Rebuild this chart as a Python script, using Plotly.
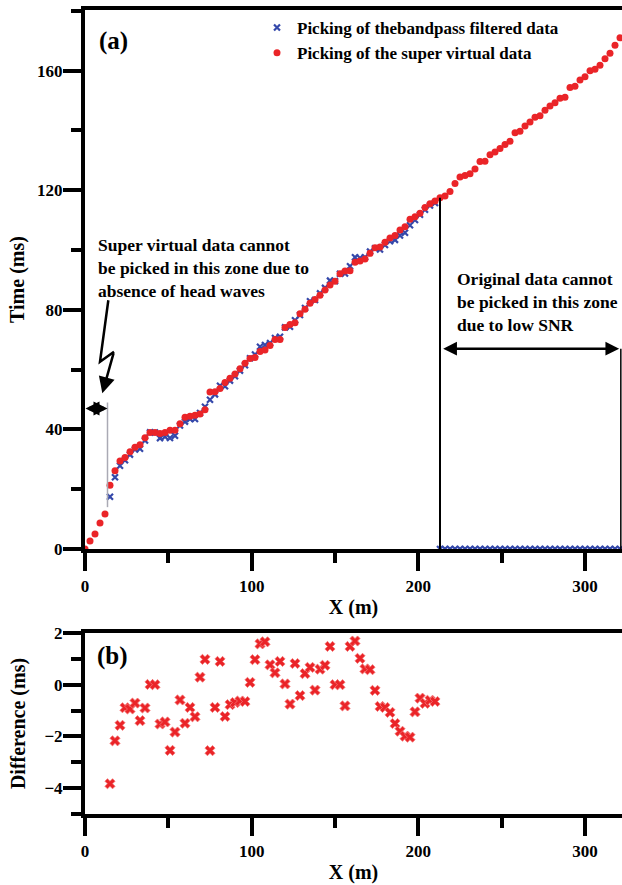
import plotly.graph_objects as go

# ---- data ----
x_super = list(range(0, 322, 3))
t_super = [0, 2.7, 5.0, 8.7, 11.7, 21.3, 26.2, 29.4, 30.6, 32.5,
           34.0, 34.9, 37.2, 39.0, 39.0, 38.6, 39.0, 39.7, 39.7, 41.9,
           44.1, 44.4, 44.7, 45.2, 46.6, 52.5, 52.6, 53.7, 55.7, 57.1,
           58.5, 60.3, 62.1, 63.7, 64.1, 66.1, 66.6, 68.1, 70.1, 70.1,
           74.1, 75.1, 75.7, 78.7, 80.2, 82.2, 83.5, 84.9, 86.6, 88.3,
           89.6, 92.1, 93.0, 93.1, 95.9, 96.3, 97.0, 98.9, 100.8, 101.0,
           102.6, 104.0, 104.9, 106.7, 107.8, 110.3, 111.1, 112.3, 114.2, 115.5,
           116.4, 117.5, 118.1, 119.6, 122.3, 124.4, 124.9, 125.5, 127.1, 129.6,
           129.7, 131.9, 132.8, 134.0, 135.3, 136.4, 139.2, 139.7, 141.5, 142.8,
           144.4, 144.9, 146.8, 148.2, 149.3, 150.8, 151.1, 154.4, 154.8, 156.9,
           158.0, 160.0, 160.5, 161.8, 164.0, 165.8, 168.5, 171.0]

x_diff = list(range(15, 211, 3))
diff = [-3.83, -2.17, -1.57, -0.89, -0.94, -0.71, -1.39, -0.90, 0.01, 0.0,
        -1.52, -1.44, -2.54, -1.83, -0.59, -1.49, -0.88, -1.24, 0.29, 0.98,
        -2.55, -0.88, 0.90, -1.23, -0.77, -0.69, -0.63, -0.65, 0.09, 0.97,
        1.58, 1.66, 0.77, 0.46, 0.90, 0.03, -0.75, 0.82, -0.42, 0.43,
        0.67, -0.21, 0.60, 0.75, 1.48, 0.0, 0.0, -0.82, 1.48, 1.69,
        1.02, 0.61, 0.58, -0.22, -0.84, -0.88, -1.07, -1.50, -1.80, -1.99,
        -2.03, -1.05, -0.52, -0.72, -0.60, -0.65]

# band-pass picks where picking failed (plotted at zero)
x_failed = list(range(213, 322, 3))
t_failed = [0] * len(x_failed)

# band-pass picks = super virtual picks + difference
sv_lookup = dict(zip(x_super, t_super))
x_band = x_diff + x_failed
t_band = [round(sv_lookup[x] + d, 2) for x, d in zip(x_diff, diff)] + t_failed

FONT = "Liberation Serif"
RED = "rgb(234,36,40)"
BLUE = "rgb(52,72,170)"

fig = go.Figure()
fig.add_trace(go.Scatter(
    x=x_band, y=t_band, mode="markers", name="Picking of thebandpass filtered data",
    marker=dict(symbol="x-thin", size=6, line=dict(color=BLUE, width=2.2), color=BLUE),
    xaxis="x", yaxis="y"))
fig.add_trace(go.Scatter(
    x=x_super, y=t_super, mode="markers", name="Picking of the super virtual data",
    marker=dict(symbol="circle", size=7, color=RED),
    xaxis="x", yaxis="y"))
fig.add_trace(go.Scatter(
    x=x_diff, y=diff, mode="markers", showlegend=False,
    marker=dict(symbol="x", size=9, color=RED, line=dict(color="rgb(245,120,120)", width=0.8)),
    xaxis="x2", yaxis="y2"))

axis_font = dict(family=FONT, size=17, color="black", weight="bold")
title_font = dict(family=FONT, size=20, color="black", weight="bold")
common_x = dict(range=[0, 322.2], showline=True, linewidth=4, linecolor="black",
                mirror=True, ticks="outside", ticklen=18, tickwidth=3.5, tickcolor="black",
                tickmode="linear", tick0=0, dtick=100, automargin=False,
                minor=dict(ticks="outside", dtick=50, ticklen=10, tickwidth=3.5, tickcolor="black"),
                showgrid=False, zeroline=False, tickfont=axis_font, ticklabelstandoff=1)
common_y = dict(showline=True, linewidth=4, linecolor="black", mirror=False, automargin=False,
                ticks="outside", ticklen=18, tickwidth=3.5, tickcolor="black",
                showgrid=False, zeroline=False, tickfont=axis_font, ticklabelstandoff=-3)

top_dom = [(814 - 549) / 804, 1.0]
bot_dom = [0.0, (814 - 633) / 804]

fig.update_layout(
    width=622, height=885,
    margin=dict(l=85, r=0, t=10, b=71),
    paper_bgcolor="white", plot_bgcolor="white",
    font=dict(family=FONT, color="black"),
    xaxis=dict(**common_x, domain=[0, 1], anchor="y",
               title=dict(text="X (m)", font=title_font, standoff=6)),
    yaxis=dict(**common_y, domain=top_dom, anchor="x", range=[0, 180.3],
               tickmode="linear", tick0=0, dtick=40,
               minor=dict(ticks="outside", dtick=20, ticklen=10, tickwidth=3.5, tickcolor="black"),
               title=dict(text="Time (ms)", font=title_font, standoff=8)),
    xaxis2=dict(**common_x, domain=[0, 1], anchor="y2",
                title=dict(text="X (m)", font=title_font, standoff=6)),
    yaxis2=dict(**common_y, domain=bot_dom, anchor="x2", range=[-5, 2],
                tickmode="linear", tick0=0, dtick=2,
                minor=dict(ticks="outside", dtick=1, ticklen=10, tickwidth=3.5, tickcolor="black"),
                title=dict(text="Difference (ms)", font=title_font, standoff=14)),
    legend=dict(x=(257 - 85) / 537, xanchor="left", y=(814 - 10) / 804, yanchor="top",
                bgcolor="rgba(0,0,0,0)", font=dict(family=FONT, size=17, weight="bold", color="black"),
                tracegroupgap=0, itemwidth=30),
)

shapes = [
    dict(type="line", xref="x", yref="y", x0=213, x1=213, y0=0, y1=117.5,
         line=dict(color="black", width=2)),
    dict(type="line", xref="x", yref="y", x0=321.5, x1=321.5, y0=0, y1=67,
         line=dict(color="black", width=1.5)),
    dict(type="line", xref="x", yref="y", x0=13.5, x1=13.5, y0=14, y1=49,
         line=dict(color="rgb(170,170,180)", width=1.5)),
    dict(type="path", xref="x", yref="y", path="M 14,83.2 L 9,62.6 L 17.4,66",
         line=dict(color="black", width=2.5)),
]
fig.update_layout(shapes=shapes)

ann = [
    dict(x=7, y=170, xref="x", yref="y", text="(a)", showarrow=False, xanchor="left",
         yanchor="middle", font=dict(family=FONT, size=25, weight="bold")),
    dict(x=6, y=1.1, xref="x2", yref="y2", text="(b)", showarrow=False, xanchor="left",
         yanchor="middle", font=dict(family=FONT, size=25, weight="bold")),
    dict(x=6.5, y=94, xref="x", yref="y", text="Super virtual data cannot<br>be picked in this zone due to<br>absence of head waves",
         showarrow=False, xanchor="left", yanchor="middle", align="left",
         font=dict(family=FONT, size=17.5, weight="bold")),
    dict(x=222, y=82.5, xref="x", yref="y", text="Original data cannot<br>be picked in this zone<br>due to low SNR",
         showarrow=False, xanchor="left", yanchor="middle", align="left",
         font=dict(family=FONT, size=17.5, weight="bold")),
    # right double arrow
    dict(x=320.5, y=67, ax=214, ay=67, xref="x", yref="y", axref="x", ayref="y", text="",
         showarrow=True, arrowhead=2, arrowside="end+start", arrowsize=1.1, arrowwidth=2.5, arrowcolor="black"),
    # left double arrow (two heads pointing outward)
    dict(x=0.3, y=47, ax=6.9, ay=47, xref="x", yref="y", axref="x", ayref="y", text="",
         showarrow=True, arrowhead=2, arrowsize=0.8, arrowwidth=3.5, arrowcolor="black"),
    dict(x=13.5, y=47, ax=6.9, ay=47, xref="x", yref="y", axref="x", ayref="y", text="",
         showarrow=True, arrowhead=2, arrowsize=0.8, arrowwidth=3.5, arrowcolor="black"),
    # zigzag arrow final segment
    dict(x=10.4, y=52.1, ax=17.4, ay=66, xref="x", yref="y", axref="x", ayref="y", text="",
         showarrow=True, arrowhead=2, arrowsize=1.3, arrowwidth=2.5, arrowcolor="black"),
]
fig.update_layout(annotations=ann)

fig.write_html("out.html", config={"displayModeBar": False},
               post_script="document.body.style.margin='0';document.body.style.padding='0';"
                           "document.body.style.overflow='hidden';")
